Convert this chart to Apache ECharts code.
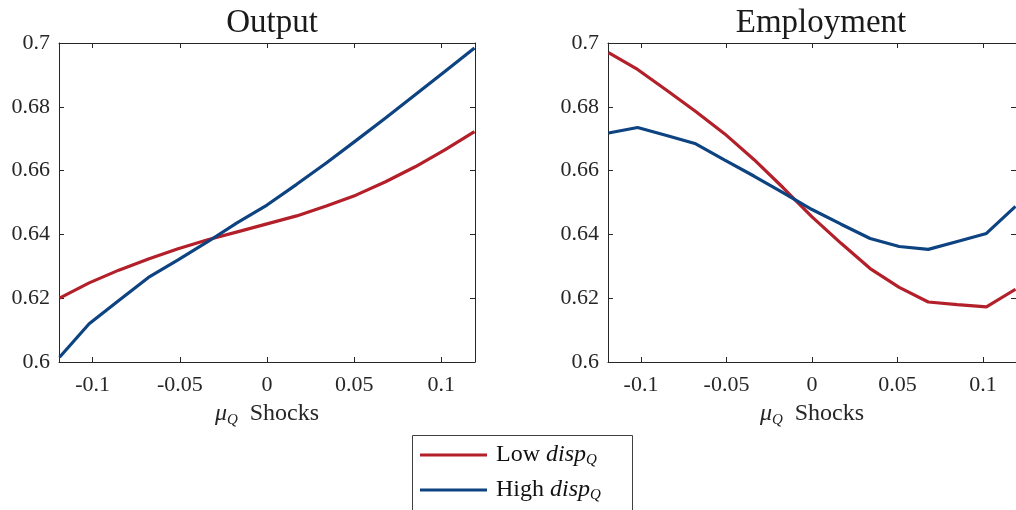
<!DOCTYPE html>
<html>
<head>
<meta charset="utf-8">
<script src="https://cdn.jsdelivr.net/npm/echarts@6/dist/echarts.min.js"></script>
<style>
  html, body { margin: 0; padding: 0; background: #fff; }
  #chart { width: 1016px; height: 510px; }
</style>
</head>
<body>
<div id="chart"></div>
<script>
// shock grid (x values)
var shocks = [-0.119, -0.102, -0.085, -0.068, -0.051, -0.034, -0.017, 0,
              0.017, 0.034, 0.051, 0.068, 0.085, 0.102, 0.119];

// Output panel
var outputLow  = [0.6200, 0.6248, 0.6288, 0.6323, 0.6355, 0.6383, 0.6408, 0.6433,
                  0.6458, 0.6489, 0.6523, 0.6565, 0.6612, 0.6665, 0.6722];
var outputHigh = [0.6015, 0.6120, 0.6193, 0.6265, 0.6320, 0.6377, 0.6437, 0.6492,
                  0.6557, 0.6624, 0.6694, 0.6765, 0.6838, 0.6911, 0.6984];

// Employment panel
var emplLow  = [0.6970, 0.6917, 0.6852, 0.6785, 0.6715, 0.6635, 0.6547, 0.6455,
                0.6372, 0.6293, 0.6234, 0.6188, 0.6180, 0.6173, 0.6228];
var emplHigh = [0.6718, 0.6735, 0.6710, 0.6684, 0.6633, 0.6583, 0.6531, 0.6478,
                0.6432, 0.6387, 0.6362, 0.6353, 0.6378, 0.6403, 0.6488];

var panelTitles = ['Output', 'Employment'];
var xTicks = [-0.1, -0.05, 0, 0.05, 0.1];
var legendNames = ['Low', 'High'];

var RED = '#b3202a', BLUE = '#0e4382', AXIS = '#262626';
var FONT = '"Liberation Serif", "DejaVu Serif", serif';

function pairs(ys) {
    var out = [];
    for (var i = 0; i < shocks.length; i++) out.push([shocks[i], ys[i]]);
    return out;
}

var chart = echarts.init(document.getElementById('chart'));

var grids = [
    { left: 59, top: 43, width: 416, height: 319 },
    { left: 608, top: 43, width: 416, height: 319 }
];

var xAxes = [], yAxes = [], titles = [];
for (var g = 0; g < 2; g++) {
    // main x axis (bottom)
    xAxes.push({
        type: 'value', gridIndex: g, position: 'bottom',
        min: -0.1193, max: 0.1193,
        axisLine: { show: true, onZero: false, lineStyle: { color: AXIS, width: 1 } },
        axisTick: { show: true, inside: true, length: 5, customValues: xTicks, lineStyle: { color: AXIS } },
        axisLabel: {
            customValues: xTicks, margin: 12,
            fontFamily: FONT, fontSize: 22, color: '#262626',
            formatter: function (v) { return String(+v.toFixed(2)); }
        },
        splitLine: { show: false },
        name: '{m|μ}{q|Q}{t|  Shocks}',
        nameLocation: 'middle', nameGap: 38,
        nameTextStyle: {
            rich: {
                m: { fontFamily: FONT, fontStyle: 'italic', fontSize: 24, color: '#262626', lineHeight: 28 },
                q: { fontFamily: FONT, fontStyle: 'italic', fontSize: 15, color: '#262626', lineHeight: 13, verticalAlign: 'bottom' },
                t: { fontFamily: FONT, fontSize: 24, color: '#262626', lineHeight: 28 }
            }
        }
    });
    // top x axis (frame)
    xAxes.push({
        type: 'value', gridIndex: g, position: 'top',
        min: -0.1193, max: 0.1193,
        axisLine: { show: true, onZero: false, lineStyle: { color: AXIS, width: 1 } },
        axisTick: { show: true, inside: true, length: 5, customValues: xTicks, lineStyle: { color: AXIS } },
        axisLabel: { show: false },
        splitLine: { show: false }
    });
    // left y axis
    yAxes.push({
        type: 'value', gridIndex: g, position: 'left',
        min: 0.6, max: 0.7, interval: 0.02,
        axisLine: { show: true, onZero: false, lineStyle: { color: AXIS, width: 1 } },
        axisTick: { show: true, inside: true, length: 5, lineStyle: { color: AXIS } },
        axisLabel: {
            margin: 9, fontFamily: FONT, fontSize: 22, color: '#262626',
            formatter: function (v) { return String(+v.toFixed(2)); }
        },
        splitLine: { show: false }
    });
    // right y axis (frame)
    yAxes.push({
        type: 'value', gridIndex: g, position: 'right',
        min: 0.6, max: 0.7, interval: 0.02,
        axisLine: { show: true, onZero: false, lineStyle: { color: AXIS, width: 1 } },
        axisTick: { show: true, inside: true, length: 5, lineStyle: { color: AXIS } },
        axisLabel: { show: false },
        splitLine: { show: false }
    });
    titles.push({
        text: panelTitles[g],
        left: grids[g].left + 208, top: 2, textAlign: 'center',
        textStyle: { fontFamily: FONT, fontSize: 33, fontWeight: 'normal', color: '#1a1a1a' }
    });
}

// one legend row per entry, stacked inside a framed box
var legendRich = {
    a: { fontFamily: FONT, fontSize: 24, color: '#111', lineHeight: 26 },
    i: { fontFamily: FONT, fontStyle: 'italic', fontSize: 24, color: '#111', lineHeight: 26 },
    q: { fontFamily: FONT, fontStyle: 'italic', fontSize: 15, color: '#111', lineHeight: 12, verticalAlign: 'bottom' }
};
var legends = legendNames.map(function (nm, k) {
    return {
        data: [nm],
        left: 420, top: 443 + k * 35,
        padding: 0,
        itemWidth: 67, itemHeight: 3,
        icon: 'rect',
        formatter: function (name) {
            return '{a|' + name + ' }{i|disp}{q|Q}';
        },
        textStyle: { padding: [0, 0, 0, 4], rich: legendRich }
    };
});

function lineSeries(name, data, xi, yi, color) {
    return {
        name: name, type: 'line', data: pairs(data),
        xAxisIndex: xi, yAxisIndex: yi,
        showSymbol: false, symbol: 'none', smooth: false,
        lineStyle: { color: color, width: 3.2 },
        itemStyle: { color: color },
        clip: true, animation: false
    };
}

chart.setOption({
    backgroundColor: '#fff',
    animation: false,
    title: titles,
    grid: grids,
    xAxis: xAxes,
    yAxis: yAxes,
    legend: legends,
    graphic: [{
        type: 'rect',
        shape: { x: 412.5, y: 435.5, width: 220, height: 100 },
        style: { fill: 'none', stroke: '#404040', lineWidth: 1 },
        silent: true
    }],
    series: [
        lineSeries('Low', outputLow, 0, 0, RED),
        lineSeries('High', outputHigh, 0, 0, BLUE),
        lineSeries('Low', emplLow, 2, 2, RED),
        lineSeries('High', emplHigh, 2, 2, BLUE)
    ]
});
</script>
</body>
</html>
